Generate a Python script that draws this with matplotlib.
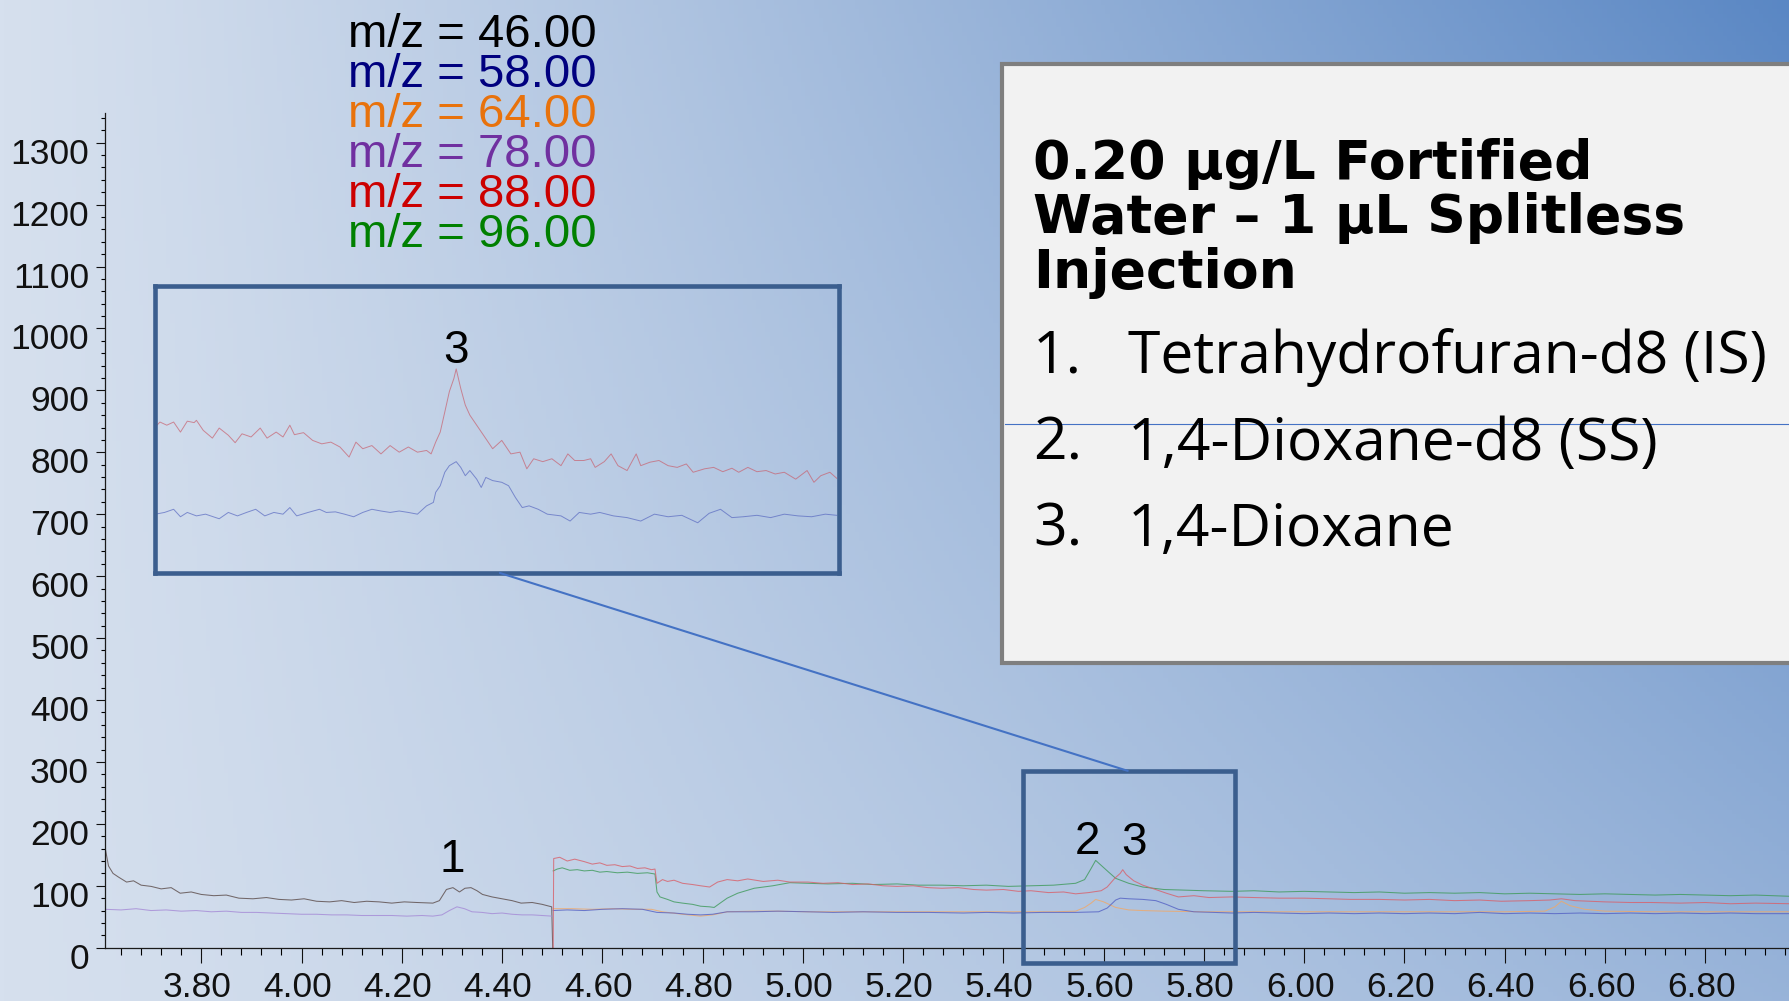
import numpy as np
import matplotlib
matplotlib.use("Agg")
import matplotlib.pyplot as plt
import matplotlib.transforms as mtransforms
from matplotlib.patches import Rectangle, ConnectionPatch
from matplotlib.lines import Line2D
from matplotlib.ticker import MultipleLocator

# ---- data -------------------------------------------------------------------
# segment 1: m/z 46 and 78
t_46 = [3.609, 3.615, 3.624, 3.635, 3.651, 3.665, 3.680, 3.700, 3.720, 3.740,
        3.758, 3.780, 3.800, 3.825, 3.850, 3.875, 3.903, 3.930, 3.955, 3.980,
        4.005, 4.030, 4.056, 4.080, 4.105, 4.130, 4.155, 4.180, 4.205, 4.230,
        4.262, 4.275, 4.289, 4.302, 4.315, 4.326, 4.338, 4.350, 4.361, 4.380,
        4.400, 4.420, 4.438, 4.460, 4.480, 4.499, 4.501]
v_46 = [158, 132, 120, 114, 106, 108, 101, 99, 95, 97,
        88, 90, 86, 84, 85, 80, 79, 81, 78, 77,
        79, 75, 74, 76, 73, 75, 74, 72, 74, 73,
        72, 76, 94, 97, 90, 96, 97, 92, 86, 82,
        79, 76, 72, 73, 70, 66, 0]

t_78 = [3.609, 3.640, 3.670, 3.700, 3.730, 3.760, 3.790, 3.820, 3.850, 3.880,
        3.910, 3.940, 3.970, 4.000, 4.030, 4.060, 4.090, 4.120, 4.150, 4.180,
        4.210, 4.240, 4.262, 4.280, 4.295, 4.310, 4.325, 4.340, 4.360, 4.380,
        4.400, 4.420, 4.440, 4.460, 4.480, 4.499]
v_78 = [62, 61, 63, 60, 61, 59, 60, 58, 59, 57,
        57, 56, 55, 54, 54, 53, 53, 52, 52, 52,
        51, 52, 51, 53, 60, 66, 63, 58, 57, 55,
        56, 54, 53, 53, 52, 51]

# segment 2: m/z 58, 64, 88, 96
t_88 = [4.502, 4.503, 4.515, 4.530, 4.545, 4.564, 4.580, 4.595, 4.609, 4.625,
        4.640, 4.655, 4.670, 4.685, 4.698, 4.705, 4.709, 4.720, 4.730, 4.743,
        4.760, 4.780, 4.796, 4.814, 4.830, 4.849, 4.870, 4.890, 4.921, 4.950,
        4.974, 5.010, 5.040, 5.070, 5.099, 5.130, 5.160, 5.188, 5.220, 5.250,
        5.277, 5.310, 5.340, 5.366, 5.400, 5.430, 5.455, 5.490, 5.520, 5.544,
        5.570, 5.595, 5.607, 5.622, 5.633, 5.638, 5.645, 5.660, 5.678, 5.700,
        5.725, 5.749, 5.780, 5.810, 5.856, 5.900, 5.950, 6.000, 6.050, 6.092,
        6.150, 6.200, 6.250, 6.300, 6.350, 6.393, 6.450, 6.490, 6.513, 6.540,
        6.600, 6.650, 6.693, 6.750, 6.800, 6.850, 6.900, 6.969]
v_88 = [0, 144, 146, 140, 143, 139, 135, 137, 133, 134,
        131, 132, 128, 129, 126, 127, 104, 110, 107, 109,
        104, 102, 100, 98, 106, 110, 108, 111, 107, 109,
        106, 106, 104, 105, 102, 103, 100, 99, 100, 97,
        96, 97, 94, 93, 94, 91, 92, 89, 90, 87,
        89, 92, 98, 112, 120, 126, 118, 108, 101, 95,
        88, 82, 84, 81, 82, 81, 80, 80, 79, 78,
        78, 77, 78, 76, 77, 75, 76, 77, 79, 76,
        74, 73, 73, 72, 73, 71, 72, 71]

t_96 = [4.502, 4.510, 4.520, 4.535, 4.550, 4.564, 4.580, 4.595, 4.609, 4.630,
        4.650, 4.670, 4.690, 4.705, 4.709, 4.715, 4.730, 4.743, 4.760, 4.780,
        4.796, 4.814, 4.823, 4.835, 4.849, 4.870, 4.903, 4.940, 4.974, 5.010,
        5.050, 5.099, 5.140, 5.188, 5.230, 5.277, 5.320, 5.366, 5.410, 5.455,
        5.500, 5.544, 5.562, 5.575, 5.584, 5.595, 5.610, 5.624, 5.650, 5.678,
        5.720, 5.760, 5.800, 5.856, 5.900, 5.950, 6.000, 6.050, 6.100, 6.150,
        6.200, 6.250, 6.300, 6.350, 6.400, 6.450, 6.500, 6.550, 6.600, 6.650,
        6.700, 6.750, 6.800, 6.850, 6.900, 6.969]
v_96 = [124, 127, 129, 125, 126, 124, 125, 122, 123, 121,
        122, 120, 121, 119, 90, 82, 78, 74, 72, 70,
        67, 66, 65, 72, 80, 88, 96, 100, 105, 104,
        103, 104, 102, 103, 101, 101, 100, 101, 99, 100,
        101, 104, 110, 128, 141, 133, 122, 112, 104, 98,
        94, 93, 92, 91, 92, 90, 91, 90, 89, 90,
        88, 89, 88, 89, 87, 88, 87, 86, 87, 86,
        85, 86, 85, 84, 85, 83]

t_58 = [4.502, 4.530, 4.564, 4.600, 4.640, 4.680, 4.709, 4.743, 4.770, 4.796,
        4.820, 4.849, 4.900, 4.950, 5.010, 5.060, 5.120, 5.188, 5.250, 5.320,
        5.366, 5.420, 5.480, 5.544, 5.590, 5.607, 5.615, 5.624, 5.633, 5.650,
        5.678, 5.704, 5.725, 5.749, 5.780, 5.820, 5.856, 5.900, 5.950, 6.000,
        6.050, 6.100, 6.150, 6.200, 6.250, 6.300, 6.350, 6.400, 6.450, 6.500,
        6.550, 6.600, 6.650, 6.700, 6.750, 6.800, 6.850, 6.900, 6.969]
v_58 = [60, 61, 60, 62, 63, 62, 57, 56, 54, 53,
        54, 58, 58, 59, 58, 57, 58, 57, 57, 56,
        57, 56, 57, 57, 58, 64, 70, 77, 80, 79,
        78, 76, 70, 62, 58, 57, 56, 57, 56, 55,
        56, 55, 56, 55, 56, 55, 57, 55, 56, 55,
        56, 55, 56, 55, 56, 55, 56, 55, 55]

t_64 = [4.502, 4.540, 4.580, 4.620, 4.660, 4.698, 4.720, 4.760, 4.796, 4.820,
        4.849, 4.900, 4.950, 5.010, 5.100, 5.200, 5.300, 5.400, 5.500, 5.544,
        5.562, 5.575, 5.584, 5.600, 5.624, 5.650, 5.678, 5.720, 5.800, 5.900,
        6.000, 6.100, 6.200, 6.300, 6.400, 6.480, 6.500, 6.513, 6.530, 6.560,
        6.600, 6.700, 6.800, 6.900, 6.969]
v_64 = [63, 63, 62, 63, 62, 62, 58, 54, 51, 53,
        58, 59, 59, 58, 58, 58, 58, 58, 58, 59,
        65, 72, 78, 74, 65, 61, 60, 59, 58, 58,
        58, 58, 58, 58, 58, 59, 66, 75, 68, 62,
        59, 58, 58, 58, 58]

# zoomed view of peak 3 (m/z 88 and 58)
inset_t_88 = [5.500, 5.502, 5.505, 5.508, 5.511, 5.514, 5.517, 5.518, 5.521, 5.525,
              5.528, 5.532, 5.535, 5.538, 5.542, 5.546, 5.549, 5.553, 5.556, 5.559,
              5.561, 5.565, 5.569, 5.573, 5.577, 5.581, 5.585, 5.588, 5.591, 5.595,
              5.599, 5.603, 5.607, 5.611, 5.615, 5.619, 5.621, 5.623, 5.625, 5.627,
              5.629, 5.631, 5.632, 5.634, 5.636, 5.638, 5.641, 5.644, 5.648, 5.652,
              5.656, 5.660, 5.663, 5.666, 5.670, 5.674, 5.678, 5.681, 5.684, 5.688,
              5.691, 5.693, 5.697, 5.700, 5.703, 5.707, 5.711, 5.713, 5.717, 5.721,
              5.725, 5.729, 5.733, 5.736, 5.741, 5.745, 5.749, 5.753, 5.756, 5.760,
              5.764, 5.768, 5.772, 5.776, 5.781, 5.786, 5.789, 5.792, 5.796, 5.799]
inset_v_88 = [50.9, 52.6, 51.5, 52.6, 49.1, 52.9, 52.4, 53.2, 49.7, 47.0,
              50.5, 48.0, 45.4, 48.5, 47.4, 50.5, 47.0, 49.1, 47.4, 51.5,
              48.2, 48.9, 46.2, 45.0, 45.6, 43.9, 40.4, 45.6, 43.3, 44.4,
              41.5, 44.4, 42.1, 43.9, 42.1, 42.7, 41.5, 45.6, 49.1, 56.1,
              63.2, 67.8, 71.1, 64.3, 58.5, 55.0, 51.5, 48.0, 43.3, 46.2,
              41.5, 42.1, 36.3, 39.8, 38.8, 39.8, 37.4, 41.5, 39.2, 39.2,
              39.8, 36.8, 38.8, 41.5, 37.4, 35.7, 41.5, 37.4, 38.6, 39.2,
              37.4, 36.8, 38.0, 35.1, 36.3, 36.8, 35.3, 36.5, 35.1, 36.8,
              35.3, 35.7, 34.5, 35.1, 32.7, 35.7, 31.6, 33.9, 35.1, 33.0]

inset_t_58 = [5.500, 5.504, 5.508, 5.511, 5.514, 5.518, 5.522, 5.528, 5.532, 5.536,
              5.540, 5.544, 5.548, 5.552, 5.556, 5.559, 5.562, 5.567, 5.572, 5.575,
              5.579, 5.583, 5.587, 5.591, 5.595, 5.599, 5.603, 5.607, 5.611, 5.615,
              5.619, 5.622, 5.623, 5.625, 5.627, 5.629, 5.632, 5.634, 5.636, 5.638,
              5.641, 5.643, 5.645, 5.648, 5.652, 5.655, 5.658, 5.661, 5.664, 5.668,
              5.672, 5.678, 5.682, 5.686, 5.691, 5.695, 5.701, 5.707, 5.713, 5.719,
              5.725, 5.731, 5.738, 5.743, 5.748, 5.753, 5.758, 5.764, 5.770, 5.776,
              5.782, 5.788, 5.794, 5.799]
inset_v_58 = [20.5, 21.1, 22.2, 19.6, 21.1, 19.9, 20.5, 18.9, 21.1, 19.9,
              21.1, 22.2, 19.9, 21.1, 20.5, 22.8, 19.9, 21.1, 22.2, 21.1,
              21.3, 20.5, 19.6, 21.1, 22.2, 21.6, 21.1, 21.6, 21.1, 20.5,
              23.4, 24.6, 28.1, 30.4, 35.1, 37.4, 38.8, 36.8, 33.9, 35.7,
              32.7, 29.8, 33.3, 32.2, 31.6, 30.4, 26.3, 22.8, 23.4, 22.2,
              20.5, 19.9, 18.1, 21.1, 20.5, 21.1, 19.9, 19.3, 18.1, 20.5,
              19.6, 20.1, 17.5, 20.8, 22.2, 19.3, 19.6, 20.1, 19.3, 20.5,
              19.9, 19.6, 20.5, 20.1]

mz_labels = ["m/z = 46.00", "m/z = 58.00", "m/z = 64.00",
             "m/z = 78.00", "m/z = 88.00", "m/z = 96.00"]
mz_colors = ["#000000", "#00007F", "#E8720C", "#7030A0", "#CC0000", "#008000"]

x_ticks = [3.8, 4.0, 4.2, 4.4, 4.6, 4.8, 5.0, 5.2, 5.4, 5.6, 5.8,
           6.0, 6.2, 6.4, 6.6, 6.8]
y_ticks = [0, 100, 200, 300, 400, 500, 600, 700, 800, 900, 1000,
           1100, 1200, 1300]

# peak numbers: (label, time, height)
peak_labels = [("1", 4.300, 123), ("2", 5.568, 152), ("3", 5.660, 150)]

title_lines = ["0.20 \u00b5g/L Fortified", "Water \u2013 1 \u00b5L Splitless", "Injection"]
compounds = ["Tetrahydrofuran-d8 (IS)", "1,4-Dioxane-d8 (SS)", "1,4-Dioxane"]

# ---- figure -----------------------------------------------------------------
W, H = 1790, 1001
fig = plt.figure(figsize=(W / 100, H / 100), dpi=100)


def fx(px):
    return px / W


def fy(py):
    return 1 - py / H


# slide-style blue gradient behind everything
bg = fig.add_axes([0, 0, 1, 1], zorder=-10)
gx, gy = np.meshgrid(np.linspace(0, 1, 400), np.linspace(0, 1, 220))
w = gx ** 1.15 * (1 - 0.5 * gy)
light = np.array([214, 224, 238]) / 255
dark = np.array([90, 135, 196]) / 255
bg.imshow(light + w[..., None] * (dark - light), aspect="auto",
          extent=[0, 1, 0, 1], origin="upper")
bg.axis("off")

# main chromatogram
ax = fig.add_axes([fx(105), fy(947.7), 1 - fx(105), fy(113) - fy(947.7)])
ax.patch.set_alpha(0)
for s in ("top", "right"):
    ax.spines[s].set_visible(False)
for s in ("left", "bottom"):
    ax.spines[s].set_color("#1a1a1a")
    ax.spines[s].set_linewidth(0.9)

trace_kw = dict(lw=0.75, alpha=0.8)
ax.plot(t_46, v_46, color="#5a4a48", **trace_kw)
ax.plot(t_78, v_78, color="#a58ad6", **trace_kw)
ax.plot(t_64, v_64, color="#f0a868", **trace_kw)
ax.plot(t_58, v_58, color="#5461c4", **trace_kw)
ax.plot(t_96, v_96, color="#3e9a5a", **trace_kw)
ax.plot(t_88, v_88, color="#d8606a", **trace_kw)

ax.set_xlim(3.608, 6.969)
ax.set_ylim(0, 1348)
ax.set_xticks(x_ticks)
ax.set_xticklabels([f"{t:.2f}" for t in x_ticks])
ax.set_yticks(y_ticks)
ax.set_yticklabels([str(v) for v in y_ticks])
ax.xaxis.set_minor_locator(MultipleLocator(0.04))
ax.yaxis.set_minor_locator(MultipleLocator(20))
ax.tick_params(axis="x", which="major", length=11, width=0.8, pad=6,
               labelsize=25.5, colors="#111111")
ax.tick_params(axis="x", which="minor", length=5, width=0.8)
ax.tick_params(axis="y", which="major", length=6.5, width=0.8, pad=5,
               labelsize=25.5, colors="#111111")
ax.tick_params(axis="y", which="minor", length=3, width=0.8)
for lab in ax.get_xticklabels() + ax.get_yticklabels():
    lab.set_fontfamily("Liberation Sans")
ydown = mtransforms.ScaledTranslation(0, -0.08, fig.dpi_scale_trans)
for lab in ax.get_yticklabels():
    lab.set_transform(lab.get_transform() + ydown)
xleft = mtransforms.ScaledTranslation(-0.04, 0, fig.dpi_scale_trans)
for lab in ax.get_xticklabels():
    lab.set_transform(lab.get_transform() + xleft)

for txt, t, v in peak_labels:
    ax.text(t, v, txt, ha="center", va="baseline", fontsize=33,
            family="Liberation Sans")

# box around peaks 2/3
box_col = "#3b5e8e"
ax.add_patch(Rectangle((5.439, -24.7), 0.423, 310.3, fill=False,
                       edgecolor=box_col, lw=3.3, clip_on=False, zorder=6))

# inset: enlarged peak 3
ins = fig.add_axes([fx(155.4), fy(573), fx(839) - fx(155.4), fy(286) - fy(573)])
ins.patch.set_alpha(0)
ins.plot(inset_t_88, inset_v_88, color="#c8606e", lw=0.7, alpha=0.7)
ins.plot(inset_t_58, inset_v_58, color="#5868c0", lw=0.7, alpha=0.7)
ins.set_xlim(5.5, 5.8)
ins.set_ylim(0, 100)
ins.set_xticks([])
ins.set_yticks([])
for s in ins.spines.values():
    s.set_color(box_col)
    s.set_linewidth(3.3)
ins.text(5.632, 73, "3", ha="center", va="baseline", fontsize=33,
         family="Liberation Sans")

con = ConnectionPatch(xyA=(0.504, 0), coordsA=ins.transAxes,
                      xyB=(5.648, 285.6), coordsB=ax.transData,
                      color="#4472c4", lw=1.5, zorder=7)
fig.add_artist(con)

# m/z legend
for i, (lab, col) in enumerate(zip(mz_labels, mz_colors)):
    fig.text(fx(597), fy(46.7 + 40 * i), lab, color=col, ha="right",
             va="baseline", fontsize=34, family="Liberation Sans")

# side panel
panel = Rectangle((fx(1002), fy(663)), 0.5, fy(64) - fy(663),
                  transform=fig.transFigure, facecolor="#f2f2f2",
                  edgecolor="#7f7f7f", lw=3, zorder=3)
fig.add_artist(panel)
fig.add_artist(Line2D([fx(1005), 1.0], [fy(423.5), fy(423.5)],
                      transform=fig.transFigure, color="#4472c4", lw=0.8,
                      zorder=4))

renderer = fig.canvas.get_renderer()


def fit_size(txt, target_px, **kw):
    probe = fig.text(0, 0, txt, fontsize=20, **kw)
    width = probe.get_window_extent(renderer).width
    probe.remove()
    return 20 * target_px / width


title_kw = dict(family="DejaVu Sans", weight="bold")
tsize = fit_size(title_lines[1], 653, **title_kw)
for line, base in zip(title_lines, [179, 233, 288]):
    fig.text(fx(1033), fy(base), line, fontsize=tsize, va="baseline",
             color="black", zorder=5, **title_kw)

item_kw = dict(family="Open Sans")
isize = fit_size(compounds[0], 638, **item_kw)
for i, (name, base) in enumerate(zip(compounds, [373, 460, 546])):
    fig.text(fx(1033), fy(base), f"{i + 1}.", fontsize=isize, va="baseline",
             color="black", zorder=5, **item_kw)
    fig.text(fx(1128), fy(base), name, fontsize=isize, va="baseline",
             color="black", zorder=5, **item_kw)

fig.savefig("out.png", dpi=100)
